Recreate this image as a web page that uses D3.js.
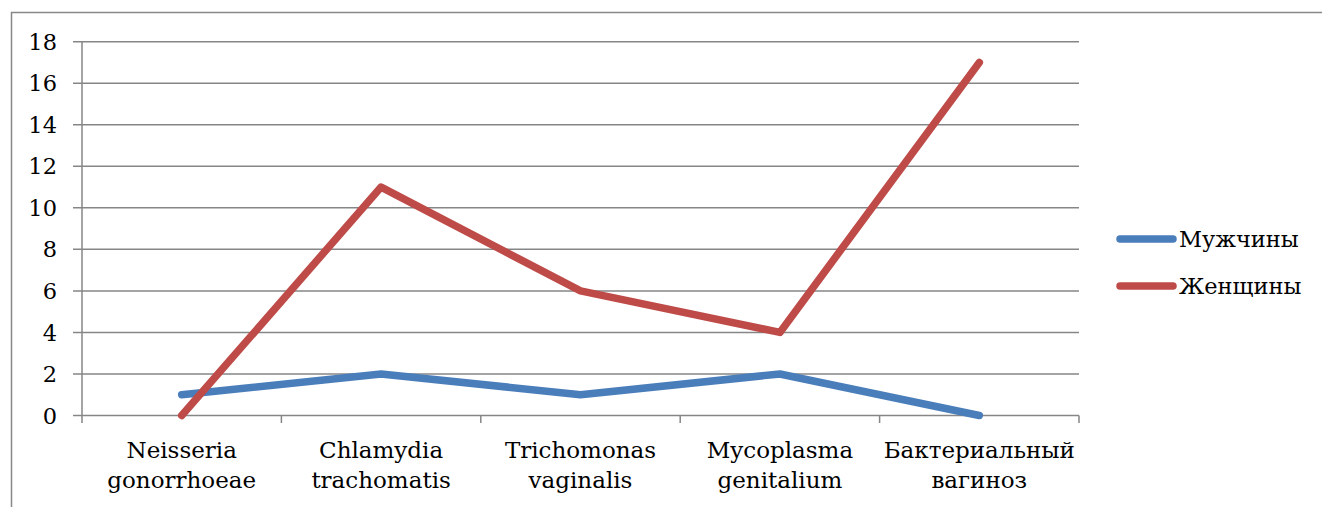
<!DOCTYPE html>
<html><head><meta charset="utf-8">
<script src="https://cdn.jsdelivr.net/npm/d3@7"></script>
<style>body{margin:0;background:#fff}svg{display:block}text{font-family:'DejaVu Serif',serif;fill:#000}</style>
</head><body><div id="c"></div>
<script>
const categories = [["Neisseria","gonorrhoeae"],["Chlamydia","trachomatis"],["Trichomonas","vaginalis"],["Mycoplasma","genitalium"],["Бактериальный","вагиноз"]];
const seriesNames = ["Мужчины","Женщины"];
const men = [1,2,1,2,0];
const women = [0,11,6,4,17];
const yTicks = [0,2,4,6,8,10,12,14,16,18];
const colors = ["#4a7ebb","#be4b48"];

const W=1322,H=507;
const svg=d3.select("#c").append("svg").attr("width",W).attr("height",H);
svg.append("rect").attr("x",11.5).attr("y",12.5).attr("width",1400).attr("height",600).attr("fill","none").attr("stroke","#888").attr("stroke-width",1.5);
const L=82,R=1079,T=41.7,B=415.5;
const x=d3.scaleBand().domain(d3.range(categories.length)).range([L,R]).padding(0);
const y=d3.scaleLinear().domain([0,18]).range([B,T]);
const g=svg.append("g");
g.selectAll(".grid").data(yTicks).join("line").attr("x1",73).attr("x2",R).attr("y1",d=>y(d)).attr("y2",d=>y(d)).attr("stroke","#868686").attr("stroke-width",1.5);
g.append("line").attr("x1",L).attr("x2",L).attr("y1",T).attr("y2",423).attr("stroke","#868686").attr("stroke-width",1.5);
const bounds=d3.range(categories.length+1).map(i=>i<categories.length?x(i):R);
g.selectAll(".xt").data(bounds.slice(1)).join("line").attr("x1",d=>d).attr("x2",d=>d).attr("y1",B).attr("y2",423).attr("stroke","#868686").attr("stroke-width",1.5);
g.selectAll(".yl").data(yTicks).join("text").attr("x",57).attr("y",d=>y(d)).attr("dy","0.36em").attr("text-anchor","end").style("font-size","22.5px").text(d=>d);
const cl=g.selectAll(".cl").data(categories).join("text").attr("text-anchor","middle").style("font-size","23px");
cl.each(function(d,i){const t=d3.select(this);d.forEach((s,j)=>t.append("tspan").attr("x",x(i)+x.bandwidth()/2).attr("y",458+j*30).text(s));});
const line=d3.line().x((d,i)=>x(i)+x.bandwidth()/2).y(d=>y(d));
[men,women].forEach((s,k)=>g.append("path").attr("d",line(s)).attr("fill","none").attr("stroke",colors[k]).attr("stroke-width",7.5).attr("stroke-linejoin","round").attr("stroke-linecap","round"));
const leg=g.selectAll(".lg").data(seriesNames).join("g").attr("transform",(d,i)=>`translate(0,${239+i*47})`);
leg.append("line").attr("x1",1120).attr("x2",1173).attr("stroke",(d,i)=>colors[i]).attr("stroke-width",7.5).attr("stroke-linecap","round");
leg.append("text").attr("x",1179).attr("dy","0.36em").style("font-size","22.5px").text(d=>d);
</script></body></html>
